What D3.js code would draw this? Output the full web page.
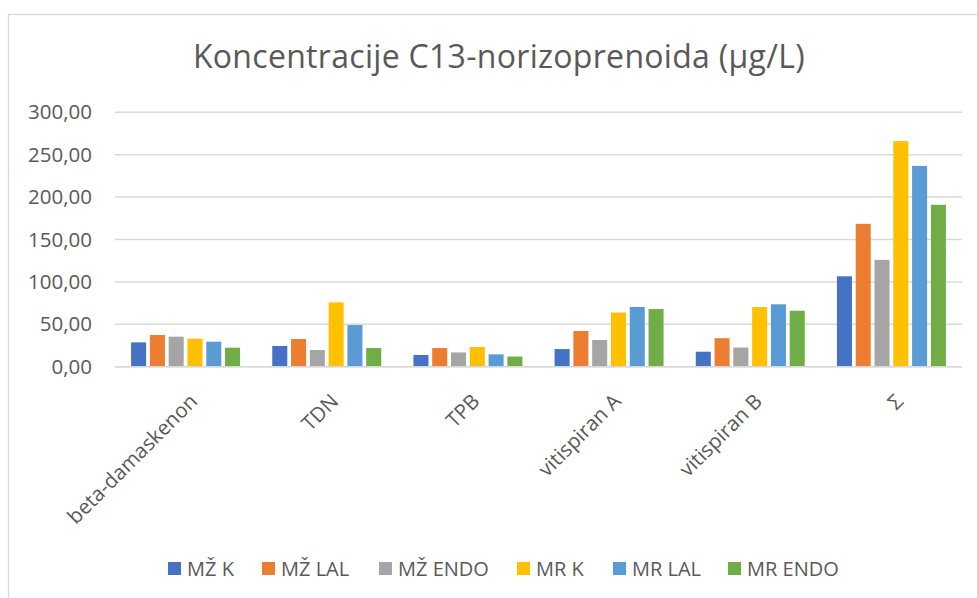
<!DOCTYPE html>
<html>
<head>
<meta charset="utf-8">
<script src="https://cdn.jsdelivr.net/npm/d3@7"></script>
<style>
  html, body { margin: 0; padding: 0; background: #fff; }
  svg { display: block; }
  text { font-family: "Open Sans", sans-serif; fill: #595959; }
</style>
</head>
<body>
<svg id="chart" width="977" height="598"></svg>
<script>
const title = "Koncentracije C13-norizoprenoida (µg/L)";
const categories = ["beta-damaskenon", "TDN", "TPB", "vitispiran A", "vitispiran B", "Σ"];
const seriesNames = ["MŽ K", "MŽ LAL", "MŽ ENDO", "MR K", "MR LAL", "MR ENDO"];
const seriesColors = ["#4472C4", "#ED7D31", "#A5A5A5", "#FFC000", "#5B9BD5", "#70AD47"];
const mzK    = [28.7, 24.4, 13.8, 20.8, 17.7, 106.6];
const mzLAL  = [37.4, 32.6, 22.0, 42.1, 33.6, 168.5];
const mzENDO = [35.4, 19.6, 16.8, 31.5, 22.6, 126.0];
const mrK    = [33.0, 75.8, 23.2, 63.9, 70.3, 266.0];
const mrLAL  = [29.5, 49.1, 14.5, 70.4, 73.6, 236.8];
const mrENDO = [22.4, 22.0, 12.0, 68.0, 66.0, 190.9];
const seriesValues = [mzK, mzLAL, mzENDO, mrK, mrLAL, mrENDO];
const yTicks = [0, 50, 100, 150, 200, 250, 300];

const svg = d3.select("#chart");
const W = 977, H = 598;
const plot = { left: 115, right: 962, top: 112.3, bottom: 366.7 };

// chart border
svg.append("rect")
  .attr("x", 8.5).attr("y", 14.5)
  .attr("width", W + 20).attr("height", H + 20)
  .attr("fill", "#fff").attr("stroke", "#d9d9d9").attr("stroke-width", 1.3);

// title
svg.append("text")
  .attr("x", 499).attr("y", 68)
  .attr("text-anchor", "middle")
  .style("font-size", "32px")
  .style("letter-spacing", "0.3px")
  .text(title);

const y = d3.scaleLinear().domain([0, 300]).range([plot.bottom, plot.top]);
const x0 = d3.scaleBand().domain(categories).range([plot.left, plot.right])
  .paddingInner(0.228).paddingOuter(0.114);
const x1 = d3.scaleBand().domain(seriesNames).range([0, x0.bandwidth()]).paddingInner(0.2);

// gridlines
svg.append("g").selectAll("line").data(yTicks).join("line")
  .attr("x1", plot.left).attr("x2", plot.right)
  .attr("y1", d => y(d)).attr("y2", d => y(d))
  .attr("stroke", "#d9d9d9").attr("stroke-width", 1.5);

// y axis labels
const fmt = d => d.toFixed(2).replace(".", ",");
const yAxis = d3.axisLeft(y).tickValues(yTicks).tickFormat(fmt).tickSize(0).tickPadding(0);
const yg = svg.append("g").attr("transform", `translate(92,0)`).call(yAxis);
yg.select(".domain").remove();
yg.selectAll("text").style("font-size", "20.5px").attr("fill", "#595959").style("font-family", "'Open Sans', sans-serif");

// bars
const rows = categories.map((c, i) => ({ cat: c, vals: seriesNames.map((s, j) => ({ s, v: seriesValues[j][i], j })) }));
svg.append("g").selectAll("g").data(rows).join("g")
  .attr("transform", d => `translate(${x0(d.cat)},0)`)
  .selectAll("rect").data(d => d.vals).join("rect")
  .attr("x", d => x1(d.s)).attr("width", x1.bandwidth())
  .attr("y", d => y(d.v)).attr("height", d => y(0) - y(d.v))
  .attr("fill", d => seriesColors[d.j]);

// baseline
svg.append("line").attr("x1", plot.left).attr("x2", plot.right)
  .attr("y1", y(0)).attr("y2", y(0)).attr("stroke", "#d9d9d9").attr("stroke-width", 1.5);

// x axis labels rotated
const xAxis = d3.axisBottom(x0).tickSize(0).tickPadding(0);
const xg = svg.append("g").attr("transform", `translate(0,${plot.bottom})`).call(xAxis);
xg.select(".domain").remove();
xg.selectAll("text")
  .style("font-size", "20.5px").style("font-family", "'Open Sans', sans-serif").attr("fill", "#595959")
  .attr("text-anchor", "end")
  .attr("y", 0).attr("dy", 0)
  .attr("transform", "translate(13,36) rotate(-45)");

// legend
const legendX = [168, 262, 379, 517, 613, 728];
const lg = svg.append("g").selectAll("g").data(seriesNames).join("g")
  .attr("transform", (d, i) => `translate(${legendX[i]},568)`);
lg.append("rect").attr("x", 0).attr("y", -6).attr("width", 13).attr("height", 13)
  .attr("fill", (d, i) => seriesColors[i]);
lg.append("text").attr("x", 19).attr("y", 8).style("font-size", "20px").text(d => d);
</script>
</body>
</html>
